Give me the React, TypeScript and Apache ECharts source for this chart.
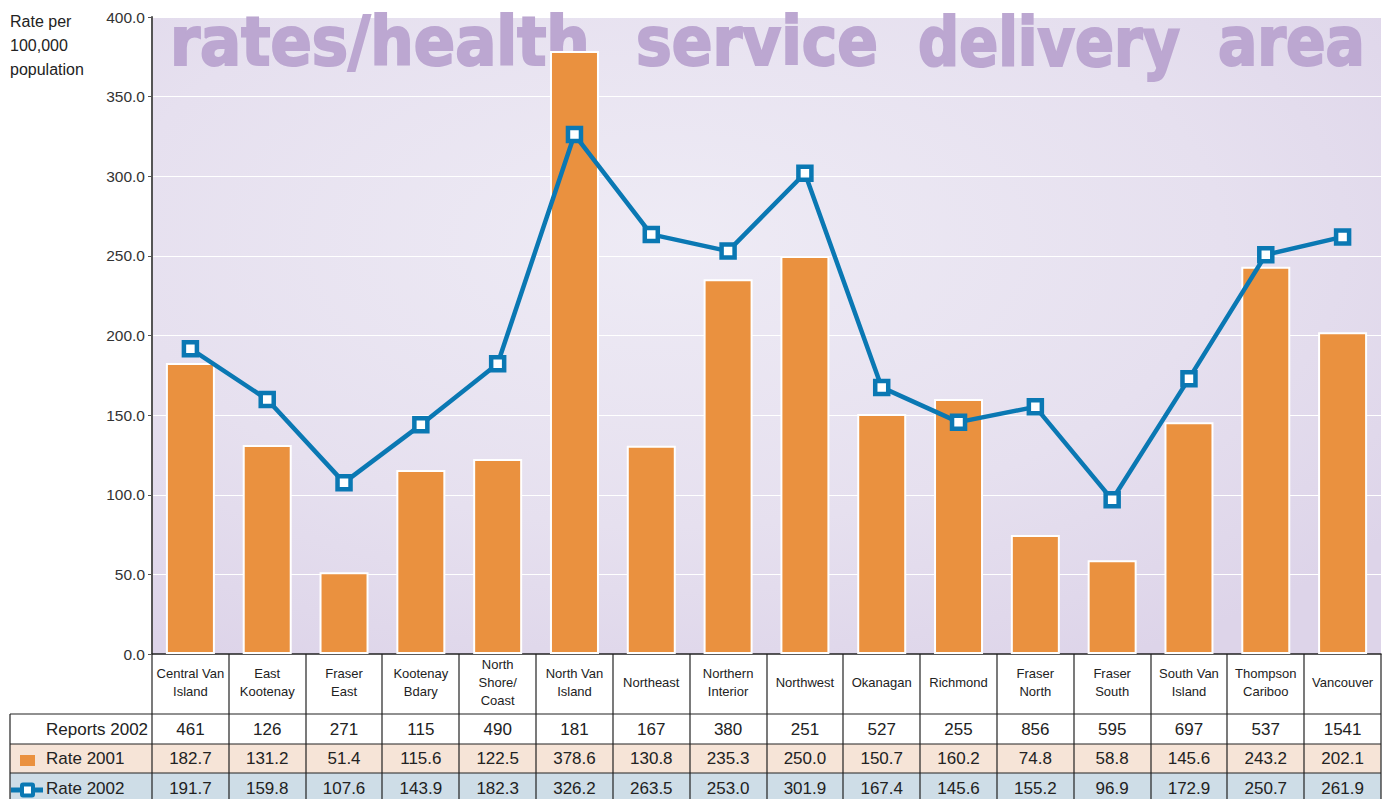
import React, { useEffect, useRef } from 'react';
import * as echarts from 'echarts';

const categories = [
  'Central Van\nIsland', 'East\nKootenay', 'Fraser\nEast', 'Kootenay\nBdary', 'North\nShore/\nCoast',
  'North Van\nIsland', 'Northeast', 'Northern\nInterior', 'Northwest', 'Okanagan', 'Richmond',
  'Fraser\nNorth', 'Fraser\nSouth', 'South Van\nIsland', 'Thompson\nCariboo', 'Vancouver',
];
const reports2002 = [461, 126, 271, 115, 490, 181, 167, 380, 251, 527, 255, 856, 595, 697, 537, 1541];
const rate2001 = [182.7, 131.2, 51.4, 115.6, 122.5, 378.6, 130.8, 235.3, 250.0, 150.7, 160.2, 74.8, 58.8, 145.6, 243.2, 202.1];
const rate2002 = [191.7, 159.8, 107.6, 143.9, 182.3, 326.2, 263.5, 253.0, 301.9, 167.4, 145.6, 155.2, 96.9, 172.9, 250.7, 261.9];
const yMin = 0;
const yMax = 400;
const yInterval = 50;
const titleWords = ['rates/health', 'service', 'delivery', 'area'];
const rowLabels = ['Reports 2002', 'Rate 2001', 'Rate 2002'];
const axisTitle = 'Rate per\n100,000\npopulation';

const FONT = '"Liberation Sans", Arial, sans-serif';
const ORANGE = '#ea913f';
const BLUE = '#0a78b3';
const TITLE_COLOR = '#bca7d1';

const GL = 152, GR = 1381, GT = 17, GB = 654;
const TL = 10;
const ROW_Y = [714, 744, 773, 803];
const TITLE_BOXES = [[170, 420], [636, 242], [918, 262], [1218, 147]];

function measure(text: string, font: string) {
  const c = document.createElement('canvas').getContext('2d')!;
  c.font = font;
  return c.measureText(text).width;
}

export default function App() {
  const ref = useRef<HTMLDivElement>(null);
  useEffect(() => {
    document.body.style.margin = '0';
    const chart = echarts.init(ref.current!, undefined, { renderer: 'svg' });
    chart.setOption({
      animation: false,
      backgroundColor: '#ffffff',
      grid: {
        left: GL, top: GT, width: GR - GL, height: GB - GT, show: true, borderWidth: 0,
        backgroundColor: {
          type: 'radial', x: 0.42, y: 0.35, r: 0.75,
          colorStops: [
            { offset: 0, color: '#eeebf5' },
            { offset: 0.6, color: '#e6e0ef' },
            { offset: 1, color: '#ddd4e9' },
          ],
        },
      },
      xAxis: {
        type: 'category', data: categories,
        axisLine: { show: true, lineStyle: { color: '#222', width: 1.5 } },
        axisTick: { show: false },
        axisLabel: {
          interval: 0, margin: 28, verticalAlign: 'middle', fontFamily: FONT, fontSize: 13,
          color: '#222', lineHeight: 18,
        },
      },
      yAxis: {
        type: 'value', min: yMin, max: yMax, interval: yInterval,
        axisLine: { show: true, lineStyle: { color: '#555', width: 2 } },
        axisTick: { show: true, length: 4, lineStyle: { color: '#555' } },
        splitLine: { show: true, lineStyle: { color: '#ffffff', width: 1.2 } },
        axisLabel: { formatter: (v: number) => v.toFixed(1), fontFamily: FONT, fontSize: 15.5, color: '#333', margin: 7 },
      },
      series: [
        {
          type: 'bar', data: rate2001, barWidth: 49, z: 2,
          itemStyle: { color: ORANGE, borderColor: '#ffffff', borderWidth: 2 },
        },
        {
          type: 'line', data: rate2002, z: 3, symbol: 'rect', symbolSize: 13,
          lineStyle: { color: BLUE, width: 4.5 },
          itemStyle: { color: '#ffffff', borderColor: BLUE, borderWidth: 4.5 },
        },
      ],
    });

    const colX = categories.map((_, i) => chart.convertToPixel({ xAxisIndex: 0 }, i) as number);
    const cw = colX.length > 1 ? colX[1] - colX[0] : 76.8;
    const g: any[] = [];

    // Title words, each stretched to its box
    const tSize = 67;
    const tFont = `bold ${tSize}px "DejaVu Sans Condensed"`;
    titleWords.forEach((w, i) => {
      const [x0, width] = TITLE_BOXES[i];
      const mw = measure(w, tFont);
      g.push({
        type: 'text', x: x0, y: 42, scaleX: width / mw, z: 1, silent: true,
        style: {
          text: w, font: tFont, fill: TITLE_COLOR, stroke: TITLE_COLOR, lineWidth: 2,
          verticalAlign: 'middle', align: 'left',
        },
      });
    });
    // Axis title
    g.push({
      type: 'text', x: 10, y: 9,
      style: { text: axisTitle, fontFamily: FONT, fontSize: 16, lineHeight: 24, fill: '#222', verticalAlign: 'top' },
    });
    // Row backgrounds
    const rowFills = ['#ffffff', '#f6e4d7', '#cedde7'];
    rowFills.forEach((f, r) => {
      g.push({ type: 'rect', shape: { x: TL, y: ROW_Y[r], width: GR - TL, height: ROW_Y[r + 1] - ROW_Y[r] }, style: { fill: f } });
    });
    // Horizontal lines
    [ROW_Y[0], ROW_Y[1], ROW_Y[2]].forEach((y) => {
      g.push({ type: 'line', shape: { x1: TL, y1: y, x2: GR, y2: y }, style: { stroke: '#222', lineWidth: 1.2 } });
    });
    // Vertical lines
    g.push({ type: 'line', shape: { x1: TL, y1: ROW_Y[0], x2: TL, y2: 799 }, style: { stroke: '#222', lineWidth: 1.2 } });
    for (let k = 0; k <= categories.length; k++) {
      const x = Math.round(colX[0] - cw / 2 + k * cw);
      g.push({ type: 'line', shape: { x1: x, y1: GB, x2: x, y2: 799 }, style: { stroke: '#222', lineWidth: 1.2 } });
    }
    // Row labels
    rowLabels.forEach((t, r) => {
      g.push({
        type: 'text', x: 46, y: (ROW_Y[r] + ROW_Y[r + 1]) / 2,
        style: { text: t, fontFamily: FONT, fontSize: 17, lineHeight: 20, fill: '#222', verticalAlign: 'middle', align: 'left' },
      });
    });
    // Legend icons
    g.push({ type: 'rect', shape: { x: 20, y: 755, width: 15, height: 11 }, style: { fill: ORANGE } });
    g.push({ type: 'line', shape: { x1: 11, y1: 790, x2: 43, y2: 790 }, style: { stroke: BLUE, lineWidth: 5 } });
    g.push({ type: 'rect', shape: { x: 22, y: 784.5, width: 11, height: 11, r: 1 }, style: { fill: '#ffffff', stroke: BLUE, lineWidth: 4 } });
    // Values
    const rows = [reports2002.map(String), rate2001.map((v) => v.toFixed(1)), rate2002.map((v) => v.toFixed(1))];
    rows.forEach((vals, r) => {
      vals.forEach((t, i) => {
        g.push({
          type: 'text', x: colX[i], y: (ROW_Y[r] + ROW_Y[r + 1]) / 2,
          style: { text: t, fontFamily: FONT, fontSize: 17, lineHeight: 20, fill: '#222', verticalAlign: 'middle', align: 'center' },
        });
      });
    });
    chart.setOption({ graphic: { elements: g } });
    return () => chart.dispose();
  }, []);
  return <div ref={ref} style={{ width: 1388, height: 799 }} />;
}
